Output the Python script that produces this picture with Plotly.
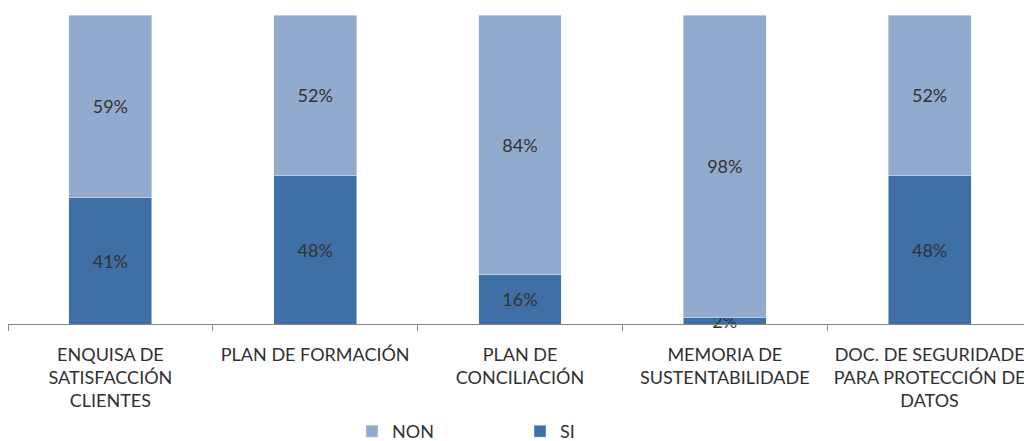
import plotly.graph_objects as go

categories = [
    "ENQUISA DE<br>SATISFACCIÓN<br>CLIENTES",
    "PLAN DE FORMACIÓN",
    "PLAN DE<br>CONCILIACIÓN",
    "MEMORIA DE<br>SUSTENTABILIDADE",
    "DOC. DE SEGURIDADE<br>PARA PROTECCIÓN DE<br>DATOS",
]
si_values = [0.41, 0.48, 0.16, 0.02, 0.48]
non_values = [0.59, 0.52, 0.84, 0.98, 0.52]

SI_COLOR = "#3E6FA5"
NON_COLOR = "#93AACF"
FONT = "Lato"
TXT = "#333333"

fig = go.Figure()
fig.add_trace(go.Bar(
    x=categories, y=si_values, name="SI", marker_color=SI_COLOR,
    texttemplate="%{y:.0%}", textposition="inside", insidetextanchor="middle",
    textfont=dict(family=FONT, size=18, color=TXT), cliponaxis=False,
))
fig.add_trace(go.Bar(
    x=categories, y=non_values, name="NON", marker_color=NON_COLOR,
    texttemplate="%{y:.0%}", textposition="inside", insidetextanchor="middle",
    textfont=dict(family=FONT, size=18, color=TXT), cliponaxis=False,
))

fig.update_layout(
    barmode="stack",
    bargap=0.595,
    width=1024, height=433,
    margin=dict(l=0, r=0, t=7, b=117, autoexpand=False),
    paper_bgcolor="white", plot_bgcolor="white",
    font=dict(family=FONT, size=18, color=TXT),
    uniformtext=dict(minsize=18, mode="show"),
    showlegend=True,
    legend=dict(
        orientation="h", x=0.5, xanchor="center",
        y=-0.288, yref="paper", yanchor="top",
        traceorder="reversed", entrywidth=123, entrywidthmode="pixels",
        font=dict(family=FONT, size=18, color=TXT), itemwidth=30,
    ),
    xaxis=dict(
        showline=True, linecolor="#868686", linewidth=1,
        ticks="outside", tickson="boundaries", ticklen=6, tickcolor="#868686",
        tickfont=dict(family=FONT, size=18, color="#303030"),
        ticklabelstandoff=14,
        showgrid=False, zeroline=False, fixedrange=True,
    ),
    yaxis=dict(
        range=[0, 1], visible=False, showgrid=False, zeroline=False,
    ),
)

fig.write_html("out.html")
